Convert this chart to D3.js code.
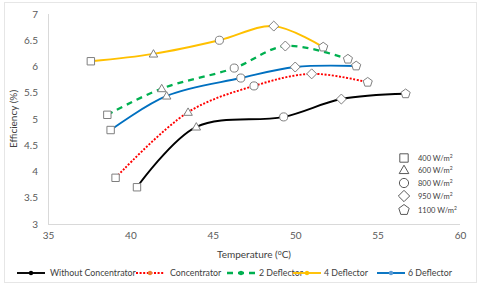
<!DOCTYPE html>
<html><head><meta charset="utf-8">
<script src="https://cdn.jsdelivr.net/npm/d3@7"></script>
<style>body{margin:0;background:#fff}svg{display:block}</style>
</head><body>
<svg id="c" width="480" height="285"></svg>
<script>
const seriesNames = ["Without Concentrator","Concentrator","2 Deflector","4 Deflector","6 Deflector"];
const irradiance = ["400 W/m","600 W/m","800 W/m","950 W/m","1100 W/m"];
const tempWithout = [40.4, 44.0, 49.3, 52.8, 56.7];
const effWithout  = [3.70, 4.85, 5.04, 5.38, 5.48];
const tempConc = [39.1, 43.5, 47.5, 51.0, 54.4];
const effConc  = [3.88, 5.13, 5.63, 5.86, 5.70];
const temp2D = [38.6, 41.9, 46.3, 49.4, 53.2];
const eff2D  = [5.08, 5.58, 5.97, 6.39, 6.14];
const temp4D = [37.6, 41.4, 45.4, 48.7, 51.7];
const eff4D  = [6.10, 6.24, 6.50, 6.77, 6.37];
const temp6D = [38.8, 42.2, 46.7, 50.0, 53.7];
const eff6D  = [4.79, 5.44, 5.78, 5.99, 6.01];
const xTicks = [35,40,45,50,55,60];
const yTicks = [3,3.5,4,4.5,5,5.5,6,6.5,7];

const temps = [tempWithout,tempConc,temp2D,temp4D,temp6D];
const effs = [effWithout,effConc,eff2D,eff4D,eff6D];
const colors = ["#000000","#ff0000","#00b050","#ffc000","#0070c0"];
const dotColors = ["#000000","#ed7d31","#00b050","#ffc000","#5b9bd5"];
const dashes = [null,"2,1.6","6,5",null,null];
const widths = [1.9,1.9,2.3,1.9,1.9];

const svg = d3.select("#c");
const font = "Lato, 'Open Sans', sans-serif";
svg.append("rect").attr("x",4.5).attr("y",2.5).attr("width",472).attr("height",280)
  .attr("fill","#fff").attr("stroke","#e6e6e6");

const x = d3.scaleLinear().domain([35,60]).range([48,460]);
const y = d3.scaleLinear().domain([3,7]).range([224,14]);

svg.append("line").attr("x1",48).attr("x2",460).attr("y1",224.5).attr("y2",224.5).attr("stroke","#d9d9d9");
svg.append("line").attr("x1",48.5).attr("x2",48.5).attr("y1",14).attr("y2",224).attr("stroke","#d9d9d9");

const xAxis = d3.axisBottom(x).tickValues(xTicks).tickSize(0).tickPadding(8);
const gx = svg.append("g").attr("transform","translate(0,224)").call(xAxis);
gx.select(".domain").remove();
gx.selectAll("text").attr("fill","#595959").style("font-family",font).style("font-size","10px");

const yAxis = d3.axisLeft(y).tickValues(yTicks).tickSize(0).tickPadding(10).tickFormat(d=>d3.format("")(d));
const gy = svg.append("g").attr("transform","translate(48,0)").call(yAxis);
gy.select(".domain").remove();
gy.selectAll("text").attr("fill","#595959").style("font-family",font).style("font-size","10px");

svg.append("text").attr("x",254).attr("y",258).attr("text-anchor","middle")
  .attr("fill","#404040").style("font-family",font).style("font-size","10px")
  .html("Temperature (<tspan font-size='7' dy='-3'>o</tspan><tspan dy='3'>C)</tspan>");
svg.append("text").attr("transform","translate(17,119) rotate(-90)").attr("text-anchor","middle")
  .attr("fill","#404040").style("font-family",font).style("font-size","10px")
  .text("Efficiency (%)");

function pentagon(r){
  const pts=[];
  for(let i=0;i<5;i++){const a=-Math.PI/2+i*2*Math.PI/5;pts.push([r*Math.cos(a),r*Math.sin(a)]);}
  return "M"+pts.map(p=>p.join(",")).join("L")+"Z";
}
function shapePath(i, s){
  if(i===0) return `M${-s},${-s}H${s}V${s}H${-s}Z`;
  if(i===1) return `M0,${-s*1.15}L${s*1.15},${s*0.85}L${-s*1.15},${s*0.85}Z`;
  if(i===2) return d3.symbol(d3.symbolCircle, Math.PI*s*s*1.2)();
  if(i===3) return `M0,${-s*1.35}L${s*1.35},0L0,${s*1.35}L${-s*1.35},0Z`;
  return pentagon(s*1.3);
}

const line = d3.line().x(d=>x(d[0])).y(d=>y(d[1])).curve(d3.curveCatmullRom.alpha(0.5));
temps.forEach((t,k)=>{
  const pts = t.map((v,i)=>[v,effs[k][i]]);
  const p = svg.append("path").attr("d",line(pts)).attr("fill","none")
    .attr("stroke",colors[k]).attr("stroke-width",widths[k]);
  if(dashes[k]) p.attr("stroke-dasharray",dashes[k]);
});
temps.forEach((t,k)=>{
  t.forEach((v,i)=>{
    svg.append("path").attr("d",shapePath(i,3.7)).attr("transform",`translate(${x(v)},${y(effs[k][i])})`)
      .attr("fill","#fff").attr("stroke","#7f7f7f").attr("stroke-width",1);
  });
});

const legY = [158,170,183,196,210];
irradiance.forEach((lab,i)=>{
  svg.append("path").attr("d",shapePath(i,4.2)).attr("transform",`translate(404,${legY[i]})`)
    .attr("fill","#fff").attr("stroke","#595959").attr("stroke-width",1);
  svg.append("text").attr("x",418).attr("y",legY[i]+3).attr("fill","#404040")
    .style("font-family",font).style("font-size","7.5px")
    .html(lab+"<tspan font-size='5' dy='-3'>2</tspan>");
});

const legX = [17,136,227,293,377];
const legTextX = [50,170,259,324,408];
seriesNames.forEach((n,k)=>{
  const l = svg.append("line").attr("x1",legX[k]).attr("x2",legX[k]+28).attr("y1",273).attr("y2",273)
    .attr("stroke",colors[k]).attr("stroke-width",widths[k]);
  if(dashes[k]) l.attr("stroke-dasharray",dashes[k]);
  svg.append("circle").attr("cx",legX[k]+14).attr("cy",273).attr("r",2.2).attr("fill",dotColors[k]);
  svg.append("text").attr("x",legTextX[k]).attr("y",276).attr("fill","#404040")
    .style("font-family",font).style("font-size","8.8px").text(n);
});
</script>
</body></html>
